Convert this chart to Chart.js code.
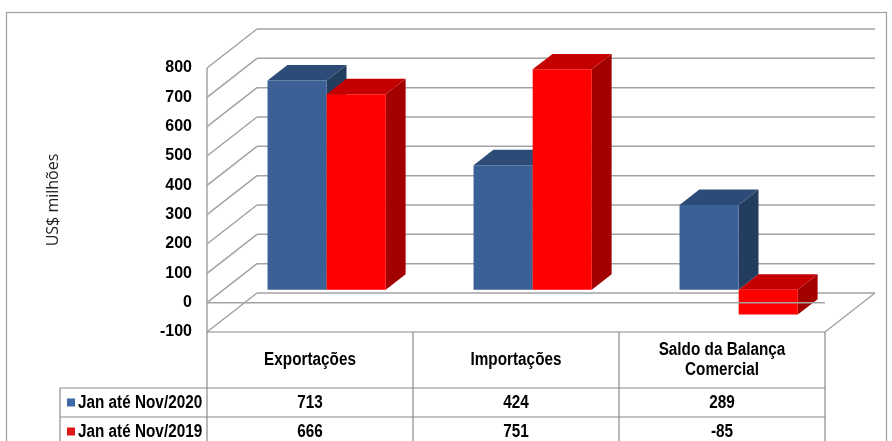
<!DOCTYPE html>
<html>
<head>
<meta charset="utf-8">
<script src="https://cdn.jsdelivr.net/npm/chart.js@4.4.1/dist/chart.umd.min.js"></script>
<style>
  html, body { margin: 0; padding: 0; background: #fff; }
  #wrap { width: 892px; height: 441px; position: relative; }
</style>
</head>
<body>
<div id="wrap"><canvas id="balancaChart" width="892" height="441"></canvas></div>
<script>
  const categories = ['Exportações', 'Importações', 'Saldo da Balança Comercial'];
  const headerLines = [['Exportações'], ['Importações'], ['Saldo da Balança', 'Comercial']];
  const seriesNames = ['Jan até Nov/2020', 'Jan até Nov/2019'];
  const values2020 = [713, 424, 289];
  const values2019 = [666, 751, -85];
  const yTicks = [-100, 0, 100, 200, 300, 400, 500, 600, 700, 800];

  // front / top / side shades for each series
  const faceColors = [
    { front: '#3a6095', top: '#2c4c77', side: '#233d60', key: '#3d6aa6' },
    { front: '#ff0000', top: '#c40000', side: '#a30000', key: '#e01818' }
  ];

  const DX = 50, DY = -39;          // full depth of the box
  const T0 = 1 / 3, T1 = 0.73;      // bar front / back depth
  const gridColor = '#a3a3a3';
  const tableColor = '#8a8a8a';
  const tableFont = "bold 18px 'Liberation Sans', Arial, sans-serif";
  const SQUEEZE = 0.85;             // narrow look of the table text

  function poly(ctx, pts, fill) {
    ctx.beginPath();
    ctx.moveTo(pts[0][0], pts[0][1]);
    for (let i = 1; i < pts.length; i++) ctx.lineTo(pts[i][0], pts[i][1]);
    ctx.closePath();
    ctx.fillStyle = fill;
    ctx.fill();
  }

  function line(ctx, x1, y1, x2, y2) {
    ctx.beginPath();
    ctx.moveTo(x1, y1);
    ctx.lineTo(x2, y2);
    ctx.stroke();
  }

  function narrowText(ctx, txt, x, y) {
    ctx.save();
    ctx.translate(x, y);
    ctx.scale(SQUEEZE, 1);
    ctx.fillText(txt, 0, 0);
    ctx.restore();
  }

  const walls3d = {
    id: 'walls3d',
    beforeDatasetsDraw(chart) {
      const ctx = chart.ctx;
      const a = chart.chartArea;
      const ys = chart.scales.y;
      ctx.save();
      ctx.strokeStyle = gridColor;
      ctx.lineWidth = 1.5;
      yTicks.forEach(v => {
        const yf = ys.getPixelForValue(v);
        line(ctx, a.left, yf, a.left + DX, yf + DY);
        line(ctx, a.left + DX, yf + DY, a.right + DX, yf + DY);
      });
      // floor right edge and front axis
      const yMin = ys.getPixelForValue(yTicks[0]);
      line(ctx, a.right, yMin, a.right + DX, yMin + DY);
      line(ctx, a.left, ys.getPixelForValue(yTicks[yTicks.length - 1]), a.left, yMin);
      ctx.restore();
    },
    afterDatasetsDraw(chart) {
      const ctx = chart.ctx;
      const a = chart.chartArea;
      const ys = chart.scales.y;
      ctx.save();
      categories.forEach((c, i) => {
        chart.data.datasets.forEach((ds, d) => {
          const el = chart.getDatasetMeta(d).data[i];
          const p = el.getProps(['x', 'y', 'base', 'width'], true);
          const l = p.x - p.width / 2, r = p.x + p.width / 2;
          const t = Math.min(p.y, p.base), b = Math.max(p.y, p.base);
          const x0 = DX * T0, y0 = DY * T0, x1 = DX * T1, y1 = DY * T1;
          const col = faceColors[d];
          poly(ctx, [[r + x0, t + y0], [r + x1, t + y1], [r + x1, b + y1], [r + x0, b + y0]], col.side);
          poly(ctx, [[l + x0, t + y0], [r + x0, t + y0], [r + x1, t + y1], [l + x1, t + y1]], col.top);
          poly(ctx, [[l + x0, t + y0], [r + x0, t + y0], [r + x0, b + y0], [l + x0, b + y0]], col.front);
        });
      });
      // front zero line
      ctx.strokeStyle = gridColor;
      ctx.lineWidth = 1.5;
      const y0 = ys.getPixelForValue(0);
      line(ctx, a.left, y0, a.right, y0);
      ctx.restore();
    },
    afterDraw(chart) {
      const ctx = chart.ctx;
      const a = chart.chartArea;
      const xs = chart.scales.x;
      const colW = (a.right - a.left) / categories.length;
      const top = a.bottom;
      const rowTops = [top + 56, top + 85, top + 114];
      const legLeft = 60;
      ctx.save();
      // outer border
      ctx.strokeStyle = '#a0a0a0';
      ctx.lineWidth = 1.2;
      ctx.strokeRect(6.5, 12.5, 880, 460);

      ctx.strokeStyle = tableColor;
      ctx.lineWidth = 1.2;
      line(ctx, a.left, top, a.right, top);
      rowTops.forEach(y => line(ctx, legLeft, y, a.right, y));
      for (let k = 0; k <= categories.length; k++) {
        const x = a.left + k * colW;
        line(ctx, x, top, x, 460);
      }
      line(ctx, legLeft, rowTops[0], legLeft, 460);

      ctx.fillStyle = '#000';
      ctx.font = tableFont;
      ctx.textAlign = 'center';
      ctx.textBaseline = 'middle';
      categories.forEach((c, i) => {
        const cx = xs.getPixelForValue(i);
        const hl = headerLines[i];
        const mid = (top + rowTops[0]) / 2;
        hl.forEach((txt, k) => {
          narrowText(ctx, txt, cx, mid + (k - (hl.length - 1) / 2) * 20);
        });
        [values2020, values2019].forEach((vals, r) => {
          narrowText(ctx, String(vals[i]), cx, (rowTops[r] + rowTops[r + 1]) / 2 + 1);
        });
      });
      ctx.textAlign = 'left';
      seriesNames.forEach((name, r) => {
        const cy = (rowTops[r] + rowTops[r + 1]) / 2;
        ctx.fillStyle = faceColors[r].key;
        ctx.fillRect(67, cy - 4, 8, 8);
        ctx.fillStyle = '#000';
        narrowText(ctx, name, 78, cy + 1);
      });
      ctx.restore();
    }
  };

  const data = {
    labels: categories,
    datasets: [
      { label: seriesNames[0], data: values2020, backgroundColor: 'rgba(0,0,0,0)', borderWidth: 0 },
      { label: seriesNames[1], data: values2019, backgroundColor: 'rgba(0,0,0,0)', borderWidth: 0 }
    ]
  };

  const config = {
    type: 'bar',
    data: data,
    options: {
      responsive: false,
      animation: false,
      events: [],
      layout: { padding: { left: 40, right: 67, top: 68, bottom: 109 } },
      datasets: { bar: { categoryPercentage: 0.574, barPercentage: 1 } },
      plugins: {
        legend: { display: false },
        tooltip: { enabled: false }
      },
      scales: {
        x: { display: false },
        y: {
          min: yTicks[0],
          max: yTicks[yTicks.length - 1],
          afterBuildTicks: s => { s.ticks = yTicks.map(v => ({ value: v })); },
          afterFit: s => { s.width = 167; },
          grid: { display: false },
          border: { display: false },
          ticks: {
            padding: 7,
            color: '#000',
            font: { family: "'Liberation Sans', Arial, sans-serif", size: 16, weight: 'bold' }
          },
          title: {
            display: true,
            text: 'US$ milhões',
            color: '#222',
            padding: { top: 4, bottom: 4 },
            font: { family: "'Open Sans', sans-serif", size: 16 }
          }
        }
      }
    },
    plugins: [walls3d]
  };

  window.onload = function() {
    const ctx = document.getElementById('balancaChart').getContext('2d');
    new Chart(ctx, config);
  };
</script>
</body>
</html>
